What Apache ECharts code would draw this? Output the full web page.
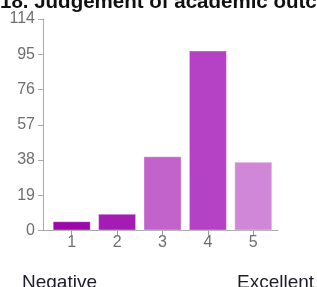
<!DOCTYPE html>
<html>
<head>
<meta charset="utf-8">
<script src="https://cdn.jsdelivr.net/npm/echarts@6/dist/echarts.min.js"></script>
<style>
  html, body { margin: 0; padding: 0; background: #fff; }
  #main { width: 317px; height: 287px; }
</style>
</head>
<body>
<div id="main"></div>
<script>
// values
const categories = ['1', '2', '3', '4', '5']
const counts = [5, 9, 40, 97, 37]
const barColors = ['#9b09a9', '#a41cb4', '#c163cb', '#b541c5', '#d187d7']
const yTicks = [0, 19, 38, 57, 76, 95, 114]

const chart = echarts.init(document.getElementById('main'))

const option = {
  animation: false,
  title: [
    {
      text: '18. Judgement of academic outcomes',
      left: -5,
      top: -13,
      textStyle: { fontFamily: 'Liberation Sans, Arial', fontSize: 20.5, fontWeight: 'bold', color: '#111' }
    },
    {
      text: 'Negative',
      left: 17,
      top: 268,
      textStyle: { fontFamily: 'Liberation Sans, Arial', fontSize: 19, fontWeight: 'normal', color: '#1c1c2c' }
    },
    {
      text: 'Excellent',
      left: 232,
      top: 268,
      textStyle: { fontFamily: 'Liberation Sans, Arial', fontSize: 19, fontWeight: 'normal', color: '#1c1c2c' }
    }
  ],
  grid: [
    { left: 49, right: 41, top: 19, bottom: 56.5 },
    // wider grid only used for the longer baseline
    { left: 43, right: 39, top: 19, bottom: 56.5 }
  ],
  xAxis: [
    {
      type: 'category',
      gridIndex: 0,
      data: categories,
      axisLine: { show: false },
      axisTick: { show: true, alignWithLabel: true, length: 5, lineStyle: { color: '#999' } },
      axisLabel: { color: '#6f6f6f', fontFamily: 'Liberation Sans, Arial', fontSize: 16, margin: 4 }
    },
    {
      type: 'category',
      gridIndex: 1,
      data: categories,
      axisLine: { show: true, lineStyle: { color: '#aaa', width: 1 } },
      axisTick: { show: false },
      axisLabel: { show: false }
    }
  ],
  yAxis: [
    {
      type: 'value',
      gridIndex: 0,
      min: yTicks[0],
      max: yTicks[yTicks.length - 1],
      interval: yTicks[1] - yTicks[0],
      offset: 6,
      axisLine: { show: true, lineStyle: { color: '#aaa' } },
      axisTick: { show: true, length: 5, lineStyle: { color: '#aaa' } },
      axisLabel: { color: '#6f6f6f', fontFamily: 'Liberation Sans, Arial', fontSize: 16, margin: 8 },
      splitLine: { show: false }
    },
    {
      type: 'value',
      gridIndex: 1,
      min: 0,
      max: 114,
      show: false
    }
  ],
  series: [
    {
      type: 'bar',
      xAxisIndex: 0,
      yAxisIndex: 0,
      barWidth: 38,
      data: counts.map((v, i) => ({
        value: v,
        itemStyle: { color: barColors[i], borderColor: 'rgba(255,255,255,0.35)', borderWidth: 1 }
      }))
    }
  ]
}

chart.setOption(option)
</script>
</body>
</html>
